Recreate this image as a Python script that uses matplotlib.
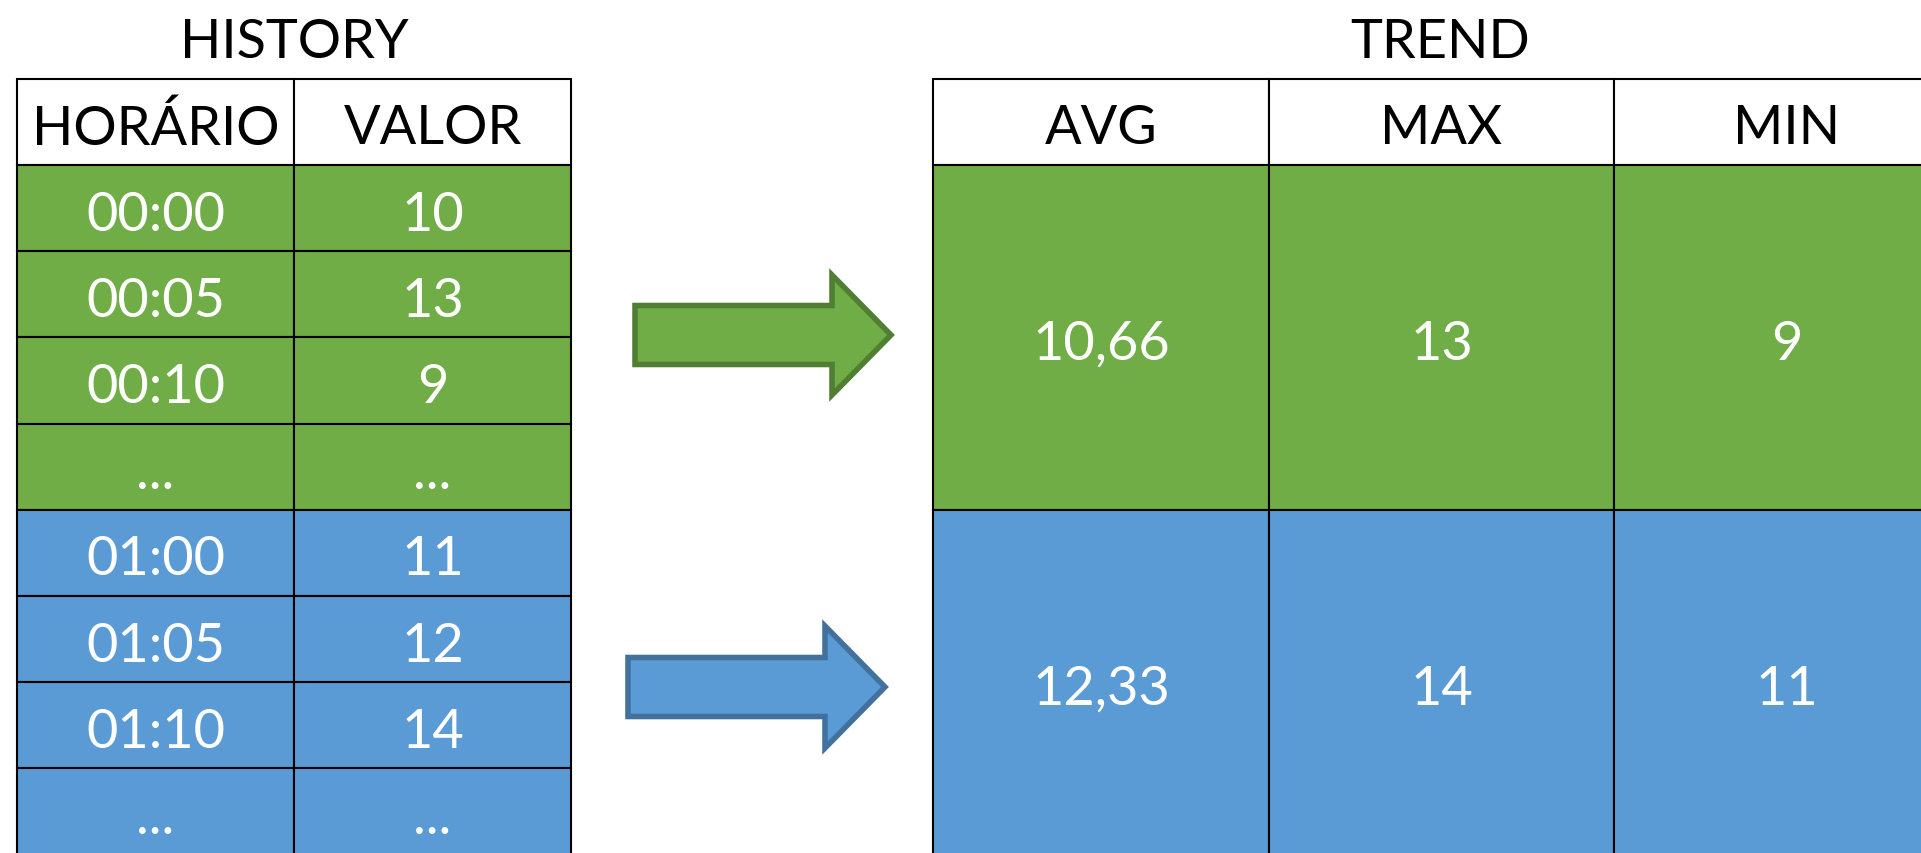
import matplotlib
matplotlib.use("Agg")
import matplotlib.pyplot as plt
from matplotlib.patches import Rectangle, Polygon

# ---------------- data ----------------
history_title = "HISTORY"
history_headers = ["HORÁRIO", "VALOR"]
history_times = ["00:00", "00:05", "00:10", "...", "01:00", "01:05", "01:10", "..."]
history_values = ["10", "13", "9", "...", "11", "12", "14", "..."]
history_groups = [0, 0, 0, 0, 1, 1, 1, 1]

trend_title = "TREND"
trend_headers = ["AVG", "MAX", "MIN"]
trend_avg = ["10,66", "12,33"]
trend_max = ["13", "14"]
trend_min = ["9", "11"]

group_colors = ["#70AD47", "#5B9BD5"]
arrow_edges = ["#507E32", "#41719C"]

# ---------------- layout (pixels) ----------------
W, H = 1921, 854
FS = 39
FONT = ["Lato", "DejaVu Sans"]
LW = 1.5

fig = plt.figure(figsize=(W / 100, H / 100), dpi=100)
ax = fig.add_axes([0, 0, 1, 1])
ax.set_xlim(0, W)
ax.set_ylim(H, 0)
ax.axis("off")


def cell(x0, y0, x1, y1, color, text, tcolor):
    ax.add_patch(Rectangle((x0, y0), x1 - x0, y1 - y0, facecolor=color,
                           edgecolor="black", linewidth=LW, zorder=1))
    ax.text((x0 + x1) / 2, (y0 + y1) / 2 + 6, text, ha="center", va="center",
            fontsize=FS, color=tcolor, family=FONT, zorder=3)


# history table
hx = [17, 294, 571]
top, head_h, row_h = 80, 86, 86.2
ax.text((hx[0] + hx[-1]) / 2, 43, history_title, ha="center", va="center",
        fontsize=FS, color="black", family=FONT)
for j, h in enumerate(history_headers):
    cell(hx[j], top, hx[j + 1], top + head_h, "white", h, "black")
for i, (t, v, g) in enumerate(zip(history_times, history_values, history_groups)):
    y0 = top + head_h + i * row_h
    y1 = y0 + row_h
    cell(hx[0], y0, hx[1], y1, group_colors[g], t, "white")
    cell(hx[1], y0, hx[2], y1, group_colors[g], v, "white")

# trend table
tx = [933, 1269, 1614, 1959]
grp_h = 345
ax.text(1440, 43, trend_title, ha="center", va="center",
        fontsize=FS, color="black", family=FONT)
for j, h in enumerate(trend_headers):
    cell(tx[j], top, tx[j + 1], top + head_h, "white", h, "black")
for g, vals in enumerate(zip(trend_avg, trend_max, trend_min)):
    y0 = top + head_h + g * grp_h
    for j, v in enumerate(vals):
        cell(tx[j], y0, tx[j + 1], y0 + grp_h, group_colors[g], v, "white")

# arrows
arrows = [
    # body_x0, head start x, tip_x, center_y, body half-height, head half-height
    (635, 832, 891, 336, 29.5, 60),
    (628, 825, 885, 688, 29.5, 61),
]
for g, (bx0, hx0, tipx, cy, bh, hh) in enumerate(arrows):
    pts = [(bx0, cy - bh), (hx0, cy - bh), (hx0, cy - hh), (tipx, cy),
           (hx0, cy + hh), (hx0, cy + bh), (bx0, cy + bh)]
    ax.add_patch(Polygon(pts, closed=True, facecolor=group_colors[g],
                         edgecolor=arrow_edges[g], linewidth=4,
                         joinstyle="miter", zorder=2))

fig.savefig("out.png", dpi=100)
